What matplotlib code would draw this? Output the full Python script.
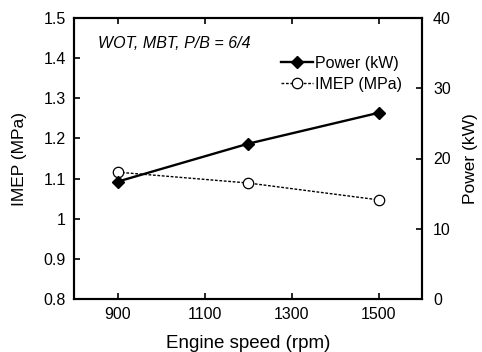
import matplotlib
matplotlib.use("Agg")
import matplotlib.pyplot as plt
from matplotlib.ticker import FuncFormatter

# data
speed = [900, 1200, 1500]
power_kw = [16.7, 22.1, 26.5]
imep_mpa = [1.116, 1.089, 1.047]

plt.rcParams['font.family'] = ['Liberation Sans', 'DejaVu Sans']
plt.rcParams['font.size'] = 11

fig = plt.figure(figsize=(4.82, 3.52), dpi=100)
ax1 = fig.add_axes([74/482, 1 - 299/352, (422-74)/482, (299-18)/352])
ax2 = ax1.twinx()

# IMEP on the left axis
l_imep, = ax1.plot(speed, imep_mpa, color='black', linestyle=(0, (2, 1.2)), linewidth=1.0,
                   marker='o', markersize=7.5, markerfacecolor='white', markeredgecolor='black',
                   markeredgewidth=0.9, label='IMEP (MPa)')
ax1.set_xlim(800, 1600)
ax1.set_ylim(0.8, 1.5)
ax1.set_xticks([900, 1100, 1300, 1500])
ax1.set_yticks([0.8, 0.9, 1.0, 1.1, 1.2, 1.3, 1.4, 1.5])
ax1.yaxis.set_major_formatter(FuncFormatter(lambda v, p: '%g' % round(v, 2)))
ax1.set_xlabel('Engine speed (rpm)', fontsize=13.5, labelpad=9)
ax1.set_ylabel('IMEP (MPa)', fontsize=12.5, labelpad=12)
ax1.tick_params(direction='in', top=True, length=4, width=1.2, labelsize=11.5, pad=6)

# Power on the right axis
l_pow, = ax2.plot(speed, power_kw, color='black', linestyle='-', linewidth=1.7,
                  marker='D', markersize=6, markerfacecolor='black', markeredgecolor='black',
                  label='Power (kW)')
ax2.set_ylim(0, 40)
ax2.set_yticks([0, 10, 20, 30, 40])
ax2.set_ylabel('Power (kW)', fontsize=12.5, labelpad=9)
ax2.tick_params(direction='in', length=4, width=1.2, labelsize=11.5, pad=8)

for ax in (ax1, ax2):
    for s in ax.spines.values():
        s.set_linewidth(1.5)

ax1.text(0.07, 0.91, 'WOT, MBT, P/B = 6/4', transform=ax1.transAxes, fontsize=11.5,
         style='italic', va='center', ha='left')

ax2.legend([l_pow, l_imep], ['Power (kW)', 'IMEP (MPa)'], loc='upper left',
           bbox_to_anchor=(0.595, 0.865), frameon=False, fontsize=11.5, handlelength=2.0,
           handletextpad=0.15, labelspacing=0.35, borderaxespad=0, borderpad=0)

fig.savefig('out.png', dpi=100)
